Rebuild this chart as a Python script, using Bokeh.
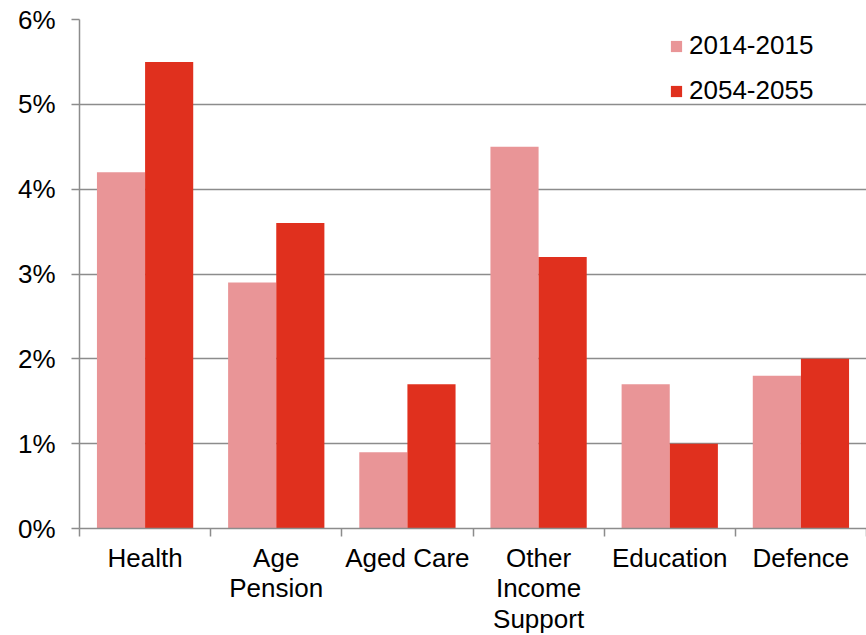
import numpy as np
from bokeh.plotting import figure
from bokeh.models import FixedTicker, PrintfTickFormatter, Range1d, Legend, LegendItem
from bokeh.embed import file_html
from bokeh.resources import INLINE

categories = ["Health", "Age\nPension", "Aged Care", "Other\nIncome\nSupport", "Education", "Defence"]
series_names = ["2014-2015", "2054-2055"]
values_2014 = [4.2, 2.9, 0.9, 4.5, 1.7, 1.8]
values_2054 = [5.5, 3.6, 1.7, 3.2, 1.0, 2.0]
y_ticks = [0, 1, 2, 3, 4, 5, 6]

LIGHT = "#E99597"
DARK = "#E0301E"
GRID = "#8C8C8C"
FONT = "Liberation Sans"

n = len(categories)
centers = np.arange(n) + 0.5
bw = 0.367

p = figure(frame_width=787, frame_height=509, output_backend="svg", toolbar_location=None,
           x_range=Range1d(0, n), y_range=Range1d(0, 6),
           min_border_left=79, min_border_right=0, min_border_top=19, min_border_bottom=10)
p.outline_line_color = None
p.background_fill_color = "white"
p.border_fill_color = "white"

r1 = p.vbar(x=centers - bw / 2, top=values_2014, width=bw, fill_color=LIGHT, line_color=None)
r2 = p.vbar(x=centers + bw / 2, top=values_2054, width=bw, fill_color=DARK, line_color=None)

# y axis
p.yaxis.ticker = FixedTicker(ticks=y_ticks)
p.yaxis.formatter = PrintfTickFormatter(format="%d%%")
p.yaxis.axis_line_color = GRID
p.yaxis.axis_line_width = 1.5
p.yaxis.major_tick_line_color = GRID
p.yaxis.major_tick_line_width = 1.5
p.yaxis.major_tick_out = 8
p.yaxis.major_tick_in = 0
p.yaxis.minor_tick_line_color = None
p.yaxis.major_label_standoff = 16
p.yaxis.major_label_text_font = FONT
p.yaxis.major_label_text_font_size = "26px"
p.yaxis.major_label_text_color = "black"

# x axis: labels at centres, ticks at boundaries
p.xaxis.ticker = FixedTicker(ticks=list(centers), minor_ticks=list(range(n + 1)))
p.xaxis.major_label_overrides = {float(c): lab for c, lab in zip(centers, categories)}
p.xaxis.axis_line_color = GRID
p.xaxis.axis_line_width = 1.5
p.xaxis.major_tick_line_color = None
p.xaxis.major_tick_out = 0
p.xaxis.major_tick_in = 0
p.xaxis.minor_tick_line_color = GRID
p.xaxis.minor_tick_line_width = 1.5
p.xaxis.minor_tick_out = 8
p.xaxis.minor_tick_in = 0
p.xaxis.major_label_standoff = 6
p.xaxis.major_label_text_font = FONT
p.xaxis.major_label_text_font_size = "26px"
p.xaxis.major_label_text_color = "black"
p.xaxis.major_label_text_line_height = 1.03

p.xgrid.grid_line_color = None
p.ygrid.ticker = FixedTicker(ticks=y_ticks)
p.ygrid.grid_line_color = GRID
p.ygrid.grid_line_width = 1.5

legend = Legend(items=[LegendItem(label=series_names[0], renderers=[r1]),
                       LegendItem(label=series_names[1], renderers=[r2])],
                location=(590, 422))
legend.border_line_color = None
legend.background_fill_alpha = 0
legend.padding = 0
legend.margin = 0
legend.glyph_width = 14
legend.glyph_height = 14
legend.label_standoff = 6
legend.spacing = 14
legend.label_text_font = FONT
legend.label_text_font_size = "26px"
legend.label_text_color = "black"
p.add_layout(legend)

open("out.html", "w").write(file_html(p, INLINE))
